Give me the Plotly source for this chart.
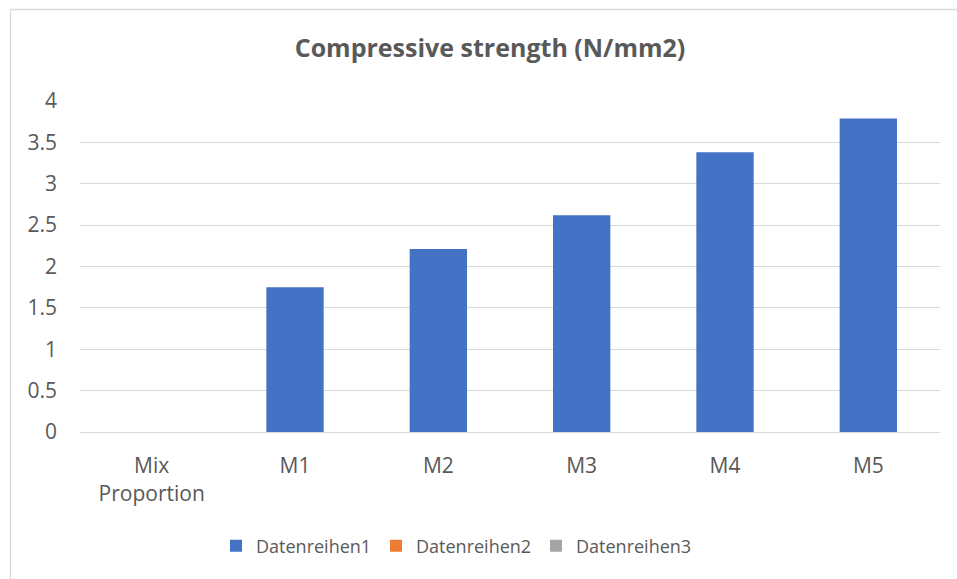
import plotly.graph_objects as go

categories = ["Mix<br>Proportion", "M1", "M2", "M3", "M4", "M5"]
series1 = [None, 1.75, 2.21, 2.62, 3.38, 3.79]
series2 = [None, None, None, None, None, None]
series3 = [None, None, None, None, None, None]
names = ["Datenreihen1", "Datenreihen2", "Datenreihen3"]
colors = ["#4472C4", "#ED7D31", "#A5A5A5"]
y_ticks = [0, 0.5, 1, 1.5, 2, 2.5, 3, 3.5, 4]

FONT = "Open Sans"
TXT = "#595959"

fig = go.Figure()
for vals, name, col in zip([series1, series2, series3], names, colors):
    fig.add_trace(go.Bar(x=categories, y=vals, name=name, marker_color=col,
                         marker_line_width=0, width=0.40))

L, R, T, B = 80, 17, 101, 147
W, H = 957, 579
pw, ph = W - L - R, H - T - B
def px_x(p): return (p - L) / pw
def px_y(p): return (H - B - p) / ph

# chart-area border (light gray)
fig.add_shape(type="rect", xref="paper", yref="paper",
              x0=px_x(10.5), x1=px_x(990), y0=px_y(9.5), y1=px_y(700),
              line=dict(color="#D9D9D9", width=1.3), fillcolor="rgba(0,0,0,0)", layer="below")

fig.update_layout(
    width=W, height=H,
    margin=dict(l=L, r=R, t=T, b=B),
    paper_bgcolor="white", plot_bgcolor="white",
    barmode="overlay",
    font=dict(family=FONT, color=TXT, size=21),
    title=dict(text="<b>Compressive strength (N/mm2)</b>", x=px_x(490), xref="paper",
               xanchor="center", y=1 - 48 / H, yanchor="middle",
               font=dict(family=FONT, size=25, color=TXT)),
    showlegend=True,
    legend=dict(orientation="h", x=px_x(456), xanchor="center", y=px_y(546), yanchor="middle",
                font=dict(family=FONT, size=18, color=TXT), itemwidth=30,
                traceorder="normal", entrywidth=115, entrywidthmode="pixels"),
    xaxis=dict(showgrid=False, showline=True, linecolor="#D9D9D9", linewidth=1.3,
               ticks="", ticklabelstandoff=15, tickfont=dict(size=21, color=TXT)),
    yaxis=dict(range=[0, 4], tickvals=y_ticks, ticktext=[f"{v:g}" for v in y_ticks],
               showgrid=True, gridcolor="#D9D9D9", gridwidth=1.3, zeroline=False,
               showline=False, ticks="", ticklabelstandoff=22,
               tickfont=dict(size=21, color=TXT)),
)

fig.write_html("out.html", config={"displayModeBar": False})

# remove default page margin so the figure sits at the window origin
with open("out.html", "r", encoding="utf-8") as f:
    html = f.read()
html = html.replace("<body>", '<body style="margin:0;padding:0;overflow:hidden">', 1)
with open("out.html", "w", encoding="utf-8") as f:
    f.write(html)
